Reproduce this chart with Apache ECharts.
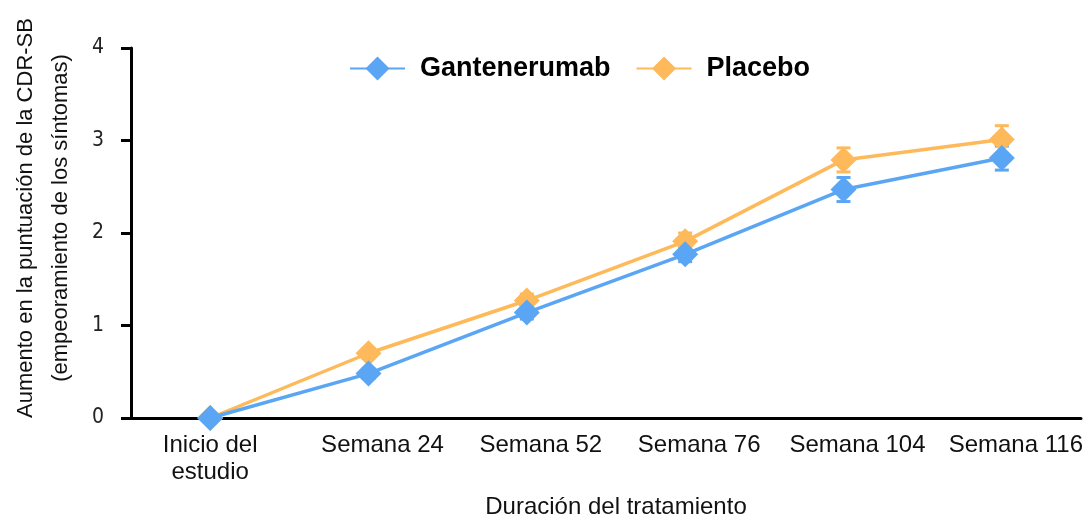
<!DOCTYPE html>
<html>
<head>
<meta charset="utf-8">
<script src="https://cdn.jsdelivr.net/npm/echarts@6/dist/echarts.min.js"></script>
<style>
  html, body { margin: 0; padding: 0; background: #fff; }
  #main { width: 1086px; height: 516px; }
</style>
</head>
<body>
<div id="main"></div>
<script>
// data
var categories = ['Inicio del\nestudio', 'Semana 24', 'Semana 52', 'Semana 76', 'Semana 104', 'Semana 116'];
var gantenerumab = [0, 0.48, 1.14, 1.77, 2.47, 2.81];
var gantErr = [0, 0.05, 0.07, 0.08, 0.13, 0.13];
var placebo = [0, 0.70, 1.27, 1.91, 2.79, 3.01];
var placErr = [0, 0.05, 0.07, 0.09, 0.13, 0.15];
var yTicks = [0, 1, 2, 3, 4];

var blue = '#5aa6f4';
var orange = '#fdb95a';

function errData(vals, errs) {
    return vals.map(function (v, i) { return [i, v - errs[i], v + errs[i]]; });
}

function errRender(color) {
    return function (params, api) {
        var lo = api.coord([api.value(0), api.value(1)]);
        var hi = api.coord([api.value(0), api.value(2)]);
        var w = 7;
        var st = { stroke: color, lineWidth: 3 };
        return {
            type: 'group',
            children: [
                { type: 'line', shape: { x1: lo[0], y1: lo[1], x2: hi[0], y2: hi[1] }, style: st },
                { type: 'line', shape: { x1: lo[0] - w, y1: lo[1], x2: lo[0] + w, y2: lo[1] }, style: st },
                { type: 'line', shape: { x1: hi[0] - w, y1: hi[1], x2: hi[0] + w, y2: hi[1] }, style: st }
            ]
        };
    };
}

var myChart = echarts.init(document.getElementById('main'));

var option = {
    animation: false,
    legend: {
        top: 50,
        left: 344,
        itemWidth: 55,
        itemHeight: 30,
        itemGap: 25,
        data: ['Gantenerumab', 'Placebo'],
        textStyle: {
            fontFamily: 'Liberation Sans',
            fontWeight: 'bold',
            fontSize: 27,
            color: '#000',
            padding: [0, 0, 0, 10]
        }
    },
    grid: {
        left: 131,
        right: 5,
        top: 48,
        bottom: 98,
        containLabel: false,
        outerBoundsMode: 'none'
    },
    xAxis: {
        type: 'category',
        data: categories,
        boundaryGap: true,
        name: 'Duración del tratamiento',
        nameLocation: 'middle',
        nameGap: 77,
        nameTextStyle: { fontFamily: 'Liberation Sans', fontSize: 24, color: '#111', padding: [0, 0, 0, 20] },
        axisLine: { lineStyle: { color: '#000', width: 3 } },
        axisTick: { interval: 0, length: 10, lineStyle: { color: '#000', width: 3 } },
        axisLabel: {
            interval: 0,
            color: '#111',
            margin: 14,
            formatter: function (v, i) {
                return i === 0 ? '{a|' + v.replace('\n', '}\n{a|') + '}' : '{b|' + v + '}';
            },
            rich: {
                a: { fontFamily: 'Liberation Sans', fontSize: 24, lineHeight: 27, color: '#111' },
                b: { fontFamily: 'Liberation Sans', fontSize: 24, lineHeight: 27, color: '#111', padding: [0, 0, 0, 28] }
            }
        }
    },
    yAxis: {
        type: 'value',
        min: 0,
        max: 4,
        interval: 1,
        name: 'Aumento en la puntuación de la CDR-SB\n(empeoramiento de los síntomas)',
        nameLocation: 'middle',
        nameGap: 53,
        nameRotate: 90,
        nameTextStyle: { fontFamily: 'Liberation Sans', fontSize: 22, color: '#111', lineHeight: 35, padding: [0, 0, 0, 30] },
        axisLine: { show: true, lineStyle: { color: '#000', width: 3 } },
        axisTick: { show: true, length: 10, lineStyle: { color: '#000', width: 3 } },
        splitLine: { show: false },
        axisLabel: {
            fontFamily: 'DejaVu Sans Condensed',
            fontSize: 21,
            color: '#222',
            margin: 27,
            formatter: function (v) { return yTicks.indexOf(v) >= 0 ? String(v) : ''; }
        }
    },
    series: [
        {
            name: 'Gantenerumab',
            type: 'line',
            data: gantenerumab,
            symbol: 'diamond',
            symbolSize: 26,
            z: 4,
            lineStyle: { color: blue, width: 3.5 },
            itemStyle: { color: blue }
        },
        {
            name: 'Placebo',
            type: 'line',
            data: placebo,
            symbol: 'diamond',
            symbolSize: 26,
            z: 3,
            lineStyle: { color: orange, width: 3.5 },
            itemStyle: { color: orange }
        },
        {
            name: 'gantErr',
            type: 'custom',
            data: errData(gantenerumab, gantErr),
            renderItem: errRender(blue),
            encode: { x: 0, y: [1, 2] },
            z: 2,
            silent: true
        },
        {
            name: 'placErr',
            type: 'custom',
            data: errData(placebo, placErr),
            renderItem: errRender(orange),
            encode: { x: 0, y: [1, 2] },
            z: 1,
            silent: true
        }
    ]
};

myChart.setOption(option);
</script>
</body>
</html>
